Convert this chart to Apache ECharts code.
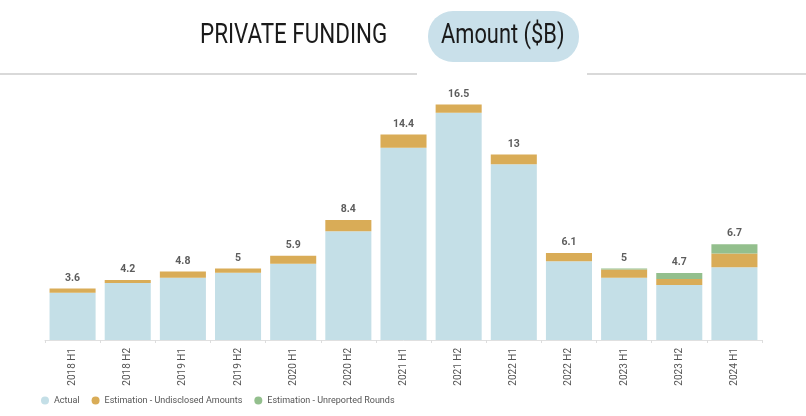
<!DOCTYPE html>
<html>
<head>
<meta charset="utf-8">
<script src="https://cdn.jsdelivr.net/npm/echarts@6/dist/echarts.min.js"></script>
<style>
html,body{margin:0;padding:0;background:#fff;}
#chart{width:806px;height:416px;}
</style>
</head>
<body>
<div id="chart"></div>
<script>
const categories = ['2018 H1','2018 H2','2019 H1','2019 H2','2020 H1','2020 H2','2021 H1','2021 H2','2022 H1','2022 H2','2023 H1','2023 H2','2024 H1'];
const totals = [3.6,4.2,4.8,5,5.9,8.4,14.4,16.5,13,6.1,5,4.7,6.7];
const actual = [3.31,4.0,4.36,4.71,5.34,7.62,13.47,15.92,12.31,5.52,4.36,3.85,5.10];
const undisclosed = [0.29,0.2,0.44,0.29,0.56,0.78,0.93,0.58,0.69,0.58,0.57,0.43,0.95];
const unreported = [0,0,0,0,0,0,0,0,0,0,0.07,0.42,0.65];
const seriesNames = ['Actual','Estimation - Undisclosed Amounts','Estimation - Unreported Rounds'];

const chart = echarts.init(document.getElementById('chart'));
const font = 'Roboto, "Noto Sans", sans-serif';
chart.setOption({
  animation:false,
  textStyle:{fontFamily:font},
  grid:{left:45,right:44,top:83,bottom:76},
  legend:{
    data:seriesNames,
    left:41, top:396, padding:0,
    icon:'circle', itemWidth:8, itemHeight:8, itemGap:12,
    textStyle:{fontSize:9,color:'#555',fontFamily:font}
  },
  xAxis:{
    type:'category', data:categories,
    axisLine:{lineStyle:{color:'#e0e0e0'}},
    axisTick:{show:true,length:3,lineStyle:{color:'#ddd'}},
    axisLabel:{rotate:90,fontSize:10,color:'#555',margin:8}
  },
  yAxis:{type:'value',min:0,max:18,show:false,splitLine:{show:false}},
  series:[
    {name:seriesNames[0],type:'bar',stack:'a',data:actual,barCategoryGap:'16.5%',itemStyle:{color:'#c4dfe7'}},
    {name:seriesNames[1],type:'bar',stack:'a',data:undisclosed,itemStyle:{color:'#d9ac57'}},
    {name:seriesNames[2],type:'bar',stack:'a',data:unreported,itemStyle:{color:'#93bf8d'}},
    {type:'scatter',data:totals,symbolSize:0,silent:true,
      label:{show:true,position:'top',distance:5,fontSize:10.5,fontWeight:'bold',color:'#333',fontFamily:font}}
  ],
  graphic:[
    {type:'line',shape:{x1:0,y1:74,x2:417,y2:74},style:{stroke:'#cccccc',lineWidth:1.5}},
    {type:'line',shape:{x1:587,y1:74,x2:806,y2:74},style:{stroke:'#cccccc',lineWidth:1.5}},
    {type:'rect',shape:{x:428,y:11,width:151,height:51,r:25},style:{fill:'#c9e0ea'}},
    {type:'text',x:200,y:36,scaleX:0.8,
      style:{text:'PRIVATE FUNDING',font:'400 28px '+font,fill:'#1a1a1a',textAlign:'left',textVerticalAlign:'middle'}},
    {type:'text',x:441,y:36,scaleX:0.78,
      style:{text:'Amount ($B)',font:'400 28px '+font,fill:'#1a1a1a',textAlign:'left',textVerticalAlign:'middle'}}
  ]
});
</script>
</body>
</html>
